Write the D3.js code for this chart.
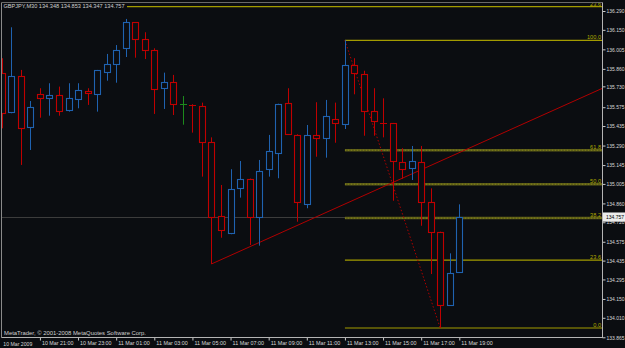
<!DOCTYPE html>
<html>
<head>
<meta charset="utf-8">
<script src="https://cdn.jsdelivr.net/npm/d3@7"></script>
<style>
html,body{margin:0;padding:0;background:#0b0d11;}
svg{display:block;}
text{font-family:"Liberation Sans","DejaVu Sans",sans-serif;}
</style>
</head>
<body>
<div id="chart"></div>
<script>
// ---- data (GBPJPY, M30, 10 Mar 19:00 .. 11 Mar 19:00) ----
const open  = [135.832,135.537,135.809,135.426,135.671,135.641,135.666,135.554,135.634,135.696,135.671,135.839,135.899,136.013,136.206,136.082,135.998,135.716,135.765,135.601,135.592,135.586,135.314,134.767,134.642,134.972,135.042,134.761,135.114,135.233,135.604,135.371,134.856,135.371,135.346,135.490,135.448,135.887,135.820,135.545,135.460,135.455,135.166,135.121,135.170,134.868,134.648,134.107,134.348];
const high  = [135.939,136.169,135.852,135.621,135.716,135.753,135.728,135.753,135.753,135.716,135.852,135.971,136.037,136.231,136.208,136.132,136.013,135.832,135.815,135.658,135.597,135.609,135.351,134.997,135.114,135.175,135.045,135.183,135.369,135.601,135.716,135.374,135.443,135.612,135.629,135.609,136.072,135.939,135.846,135.716,135.641,135.458,135.270,135.287,135.287,134.972,134.650,134.489,134.853];
const low   = [135.418,135.530,135.146,135.257,135.497,135.512,135.512,135.542,135.567,135.592,135.542,135.772,135.757,135.948,135.943,135.933,135.525,135.562,135.517,135.445,135.386,135.059,134.410,134.605,134.631,134.903,134.551,134.546,135.059,135.047,135.370,134.724,134.824,135.207,135.200,135.311,135.413,135.671,135.363,135.363,135.351,134.880,135.044,135.034,134.694,134.335,133.934,134.100,134.347];
const close = [135.530,135.809,135.418,135.574,135.644,135.666,135.547,135.641,135.701,135.679,135.849,135.894,135.998,136.211,136.082,135.998,135.710,135.760,135.597,135.601,135.589,135.314,134.761,134.660,134.965,135.042,134.761,135.099,135.250,135.601,135.374,134.868,135.371,135.349,135.512,135.460,135.889,135.832,135.547,135.470,135.457,135.175,135.114,135.173,134.873,134.645,134.107,134.341,134.757];

const priceTicks = [136.290,136.150,136.005,135.860,135.730,135.575,135.435,135.290,135.145,135.005,134.860,134.720,134.575,134.435,134.295,134.150,134.010,133.865];
const timeTickIdx = [4,8,12,16,20,24,28,32,36,40,44,48];
const timeTickLabels = ["10 Mar 21:00","10 Mar 23:00","11 Mar 01:00","11 Mar 03:00","11 Mar 05:00","11 Mar 07:00","11 Mar 09:00","11 Mar 11:00","11 Mar 13:00","11 Mar 15:00","11 Mar 17:00","11 Mar 19:00"];
const firstDateLabel = "10 Mar 2009";

const bidPrice = 134.757;
const titleText = "GBPJPY,M30  134.348 134.853 134.347 134.757";
const copyrightText = "MetaTrader, \u00A9 2001-2008 MetaQuotes Software Corp.";

// Fibonacci retracement: from candle 36 high to candle 46 low
const fibHigh = {i:36, p:136.072};
const fibLow  = {i:46, p:133.934};
const fibRatios = [1.0, 0.618, 0.5, 0.382, 0.236, 0.0];
const fibLabels = ["100.0","61.8","50.0","38.2","23.6","0.0"];
const extraLevel = {p:136.322, label:"23.6"};

// Trend line (ray) from candle 22 low
const trendPts = [{i:22, p:134.410},{i:40, p:134.983}];

// ---- layout ----
const W = 625, H = 348;
const L = 1.5, T = 2.5, R = 602.5, B = 337.5;
const BG = "#0b0d11";
const BULL = "#1f62b0", BEAR = "#c00000", DOJI = "#1c8a1c";
const FS = 5.3;

const x = d3.scaleLinear().domain([0, 48]).range([1.8, 459.3]);
const y = d3.scaleLinear().domain([133.865, 136.290]).range([337.3, 11]);

const svg = d3.select("#chart").append("svg").attr("width", W).attr("height", H);
svg.append("rect").attr("width", W).attr("height", H).attr("fill", BG);

svg.append("defs").append("clipPath").attr("id","plot")
  .append("rect").attr("x", L).attr("y", T).attr("width", R-L).attr("height", B-T);
const g = svg.append("g").attr("clip-path","url(#plot)");

// bid line
g.append("line").attr("x1", L).attr("x2", R)
  .attr("y1", Math.round(y(bidPrice))+0.5).attr("y2", Math.round(y(bidPrice))+0.5)
  .attr("stroke","#3c3c3c").attr("stroke-width",1);

// fib levels
const fibRange = fibHigh.p - fibLow.p;
const fibX0 = x(fibHigh.i);
fibRatios.forEach((r, k) => {
  const p = fibLow.p + r*fibRange;
  const yy = y(p);
  const thick = (r > 0.3 && r < 0.7);
  g.append("line").attr("x1", fibX0).attr("x2", R).attr("y1", yy).attr("y2", yy)
    .attr("stroke", thick ? "#5f5f18" : "#a39b00").attr("stroke-width", thick ? 2.5 : 1.2);
  if (thick) {
    g.append("line").attr("x1", fibX0).attr("x2", R).attr("y1", yy).attr("y2", yy)
      .attr("stroke", "#86861a").attr("stroke-width", 1).attr("stroke-dasharray","1,2");
  }
  g.append("text").attr("x", 601).attr("y", yy - 1.3).attr("text-anchor","end")
    .attr("font-size", 5.6).attr("fill", "#b0a800").text(fibLabels[k]);
});
// extra top level
g.append("line").attr("x1", 127).attr("x2", R).attr("y1", y(extraLevel.p)).attr("y2", y(extraLevel.p))
  .attr("stroke","#a39b00").attr("stroke-width",1.2);
g.append("text").attr("x", 601).attr("y", y(extraLevel.p) - 1.1).attr("text-anchor","end")
  .attr("font-size", 5.6).attr("fill", "#b0a800").text(extraLevel.label);

// fib diagonal
g.append("line").attr("x1", x(fibHigh.i)).attr("y1", y(fibHigh.p))
  .attr("x2", x(fibLow.i)).attr("y2", y(fibLow.p))
  .attr("stroke", "#b00000").attr("stroke-width",1).attr("stroke-dasharray","1.5,2");

// trend ray
{
  const [a, b] = trendPts;
  const slope = (b.p - a.p)/(b.i - a.i);
  const iEnd = x.invert(R + 5);
  g.append("line").attr("x1", x(a.i)).attr("y1", y(a.p))
    .attr("x2", x(iEnd)).attr("y2", y(a.p + slope*(iEnd - a.i)))
    .attr("stroke", "#b00000").attr("stroke-width",1);
}

// candles
const data = open.map((o,i)=>({i, o, h:high[i], l:low[i], c:close[i]}));
const col = d => d.c > d.o ? BULL : (d.c < d.o ? BEAR : DOJI);
const cg = g.append("g");
const cs = cg.selectAll("g").data(data).join("g");
cs.append("line")
  .attr("x1", d => Math.round(x(d.i))+0.5).attr("x2", d => Math.round(x(d.i))+0.5)
  .attr("y1", d => y(d.h)).attr("y2", d => y(d.l))
  .attr("stroke", col).attr("stroke-width",1);
cs.each(function(d){
  const sel = d3.select(this);
  const cx = Math.round(x(d.i));
  const y1 = y(Math.max(d.o,d.c)), y2 = y(Math.min(d.o,d.c));
  if (y2 - y1 < 1.2) {
    sel.append("line").attr("x1", cx-3).attr("x2", cx+4)
      .attr("y1", Math.round(y1)+0.5).attr("y2", Math.round(y1)+0.5)
      .attr("stroke", col(d)).attr("stroke-width",1.2);
  } else {
    sel.append("rect").attr("x", cx-3+0.5).attr("width", 6)
      .attr("y", Math.round(y1)+0.5).attr("height", Math.max(1, Math.round(y2)-Math.round(y1)))
      .attr("fill", BG).attr("stroke", col(d)).attr("stroke-width",1.1);
  }
});

// frame
svg.append("line").attr("x1",L).attr("x2",L).attr("y1",T).attr("y2",B).attr("stroke","#8a8a8a");
svg.append("line").attr("x1",L).attr("x2",R).attr("y1",T).attr("y2",T).attr("stroke","#6a6a6a");

// right axis
const yAxis = d3.axisRight(y).tickValues(priceTicks).tickSize(3).tickFormat(d3.format(".3f"));
const ya = svg.append("g").attr("transform", `translate(${R},0)`).call(yAxis);
ya.select(".domain").remove();
ya.attr("font-family", null).attr("font-size", null);
ya.selectAll(".tick line").attr("stroke","#c8c8c8");
ya.selectAll(".tick text").attr("x", 4).attr("fill","#d8d8d8").attr("font-size",FS)
  .attr("textLength",18).attr("lengthAdjust","spacingAndGlyphs");
svg.append("line").attr("x1",R).attr("x2",R).attr("y1",T).attr("y2",B+0.5).attr("stroke","#b4b4b4");

// bottom axis
const xAxis = d3.axisBottom(x).tickValues(timeTickIdx).tickSize(3).tickFormat((d,k)=>timeTickLabels[k]);
const xa = svg.append("g").attr("transform", `translate(0,${B})`).call(xAxis);
xa.select(".domain").remove();
xa.attr("font-family", null).attr("font-size", null);
xa.selectAll(".tick line").attr("stroke","#c8c8c8");
xa.selectAll(".tick text").attr("text-anchor","start").attr("x",1.5).attr("y",3.5)
  .attr("fill","#d8d8d8").attr("font-size",FS)
  .attr("textLength",31.5).attr("lengthAdjust","spacingAndGlyphs");
svg.append("line").attr("x1",L).attr("x2",R).attr("y1",B).attr("y2",B).attr("stroke","#b4b4b4");
svg.append("text").attr("x",3.3).attr("y",346.2).attr("fill","#d8d8d8").attr("font-size",FS)
  .attr("textLength",29).attr("lengthAdjust","spacingAndGlyphs").text(firstDateLabel);

// current price label
{
  const yy = y(bidPrice);
  svg.append("rect").attr("x", R+0.5).attr("y", yy-4.8).attr("width", W-R).attr("height", 9.2).attr("fill","#ececec");
  svg.append("text").attr("x", 606).attr("y", yy+2).attr("fill","#000").attr("font-size",FS)
    .attr("textLength",18).attr("lengthAdjust","spacingAndGlyphs").text(bidPrice.toFixed(3));
}

// title + copyright
svg.append("text").attr("x",3.5).attr("y",8.4).attr("fill","#d0d0d0").attr("font-size",5.4)
  .attr("textLength",121).attr("lengthAdjust","spacingAndGlyphs").text(titleText);
svg.append("text").attr("x",4).attr("y",335.4).attr("fill","#d0d0d0").attr("font-size",5.6)
  .attr("textLength",142).attr("lengthAdjust","spacingAndGlyphs").text(copyrightText);
</script>
</body>
</html>
